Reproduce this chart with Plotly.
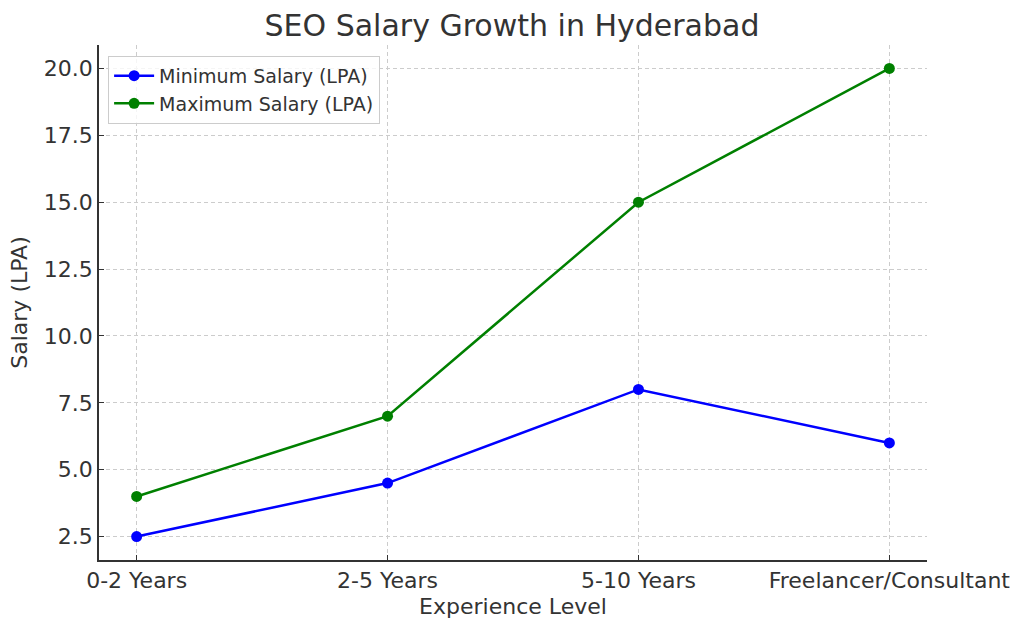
import plotly.graph_objects as go

experience = ["0-2 Years", "2-5 Years", "5-10 Years", "Freelancer/Consultant"]
min_salary = [2.5, 4.5, 8.0, 6.0]
max_salary = [4.0, 7.0, 15.0, 20.0]
y_ticks = [2.5, 5.0, 7.5, 10.0, 12.5, 15.0, 17.5, 20.0]

fig = go.Figure()
fig.add_trace(go.Scatter(x=list(range(len(experience))), y=min_salary, mode="lines+markers",
                         name="Minimum Salary (LPA)",
                         line=dict(color="blue", width=2.5), marker=dict(size=11, color="blue")))
fig.add_trace(go.Scatter(x=list(range(len(experience))), y=max_salary, mode="lines+markers",
                         name="Maximum Salary (LPA)",
                         line=dict(color="green", width=2.5), marker=dict(size=11, color="green")))

axis_font = dict(family="DejaVu Sans", size=22, color="#333333")
fig.update_layout(
    width=1024, height=632,
    margin=dict(l=99, r=97, t=45, b=72),
    paper_bgcolor="white", plot_bgcolor="white",
    font=dict(family="DejaVu Sans", color="#333333"),
    title=dict(text="SEO Salary Growth in Hyderabad", x=0.5, xanchor="center",
               y=0.96, yanchor="middle",
               font=dict(family="DejaVu Sans", size=30, color="#333333")),
    showlegend=True,
    legend=dict(x=0.011, y=0.979, xanchor="left", yanchor="top",
                bgcolor="rgba(255,255,255,0.8)", bordercolor="#cccccc", borderwidth=1,
                font=dict(family="DejaVu Sans", size=19, color="#333333"),
                itemwidth=40, tracegroupgap=0),
    xaxis=dict(
        tickmode="array", tickvals=list(range(len(experience))), ticktext=experience,
        range=[-0.15, 3.15], showgrid=True, gridcolor="#cccccc", griddash="4px,3px", gridwidth=1,
        showline=True, linecolor="#333333", linewidth=1.5, mirror=False,
        ticks="inside", ticklen=5, tickcolor="#333333",
        tickfont=axis_font, zeroline=False, automargin=False,
        title=dict(text="Experience Level", font=axis_font, standoff=6),
    ),
    yaxis=dict(
        tickmode="array", tickvals=y_ticks, ticktext=[f"{v:.1f}" for v in y_ticks],
        range=[1.625, 20.875], showgrid=True, gridcolor="#cccccc", griddash="4px,3px", gridwidth=1,
        showline=True, linecolor="#333333", linewidth=1.5, mirror=False,
        ticks="inside", ticklen=5, tickcolor="#333333",
        tickfont=axis_font, zeroline=False, automargin=False,
        title=dict(text="Salary (LPA)", font=axis_font, standoff=10),
    ),
)

fig.write_html("out.html", config={"displayModeBar": False},
               post_script="document.body.style.margin='0';")
